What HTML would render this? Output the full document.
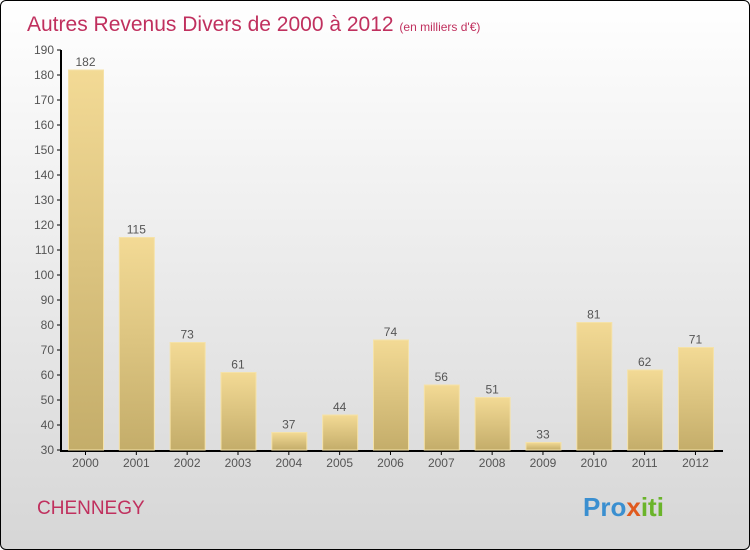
<!DOCTYPE html>
<html><head><meta charset="utf-8"><style>
body{margin:0}
#c{width:748px;height:548px;border:1px solid #000;border-radius:6px;overflow:hidden;background:linear-gradient(#ffffff,#d6d6d6);position:relative;font-family:"Liberation Sans",sans-serif}
</style></head><body>
<div id="c">
<svg width="748" height="548">
<defs><linearGradient id="g" x1="0" y1="0" x2="0" y2="1"><stop offset="0" stop-color="#f3da95"/><stop offset="1" stop-color="#c4ad6a"/></linearGradient></defs>
<text x="26" y="30" font-size="21" fill="#c0305e">Autres Revenus Divers de 2000 à 2012 <tspan font-size="12">(en milliers d'€)</tspan></text>
<g id="ax"></g><g id="bars"></g>
<text x="36" y="513" font-size="19" fill="#c0305e">CHENNEGY</text>
<text x="582" y="515" font-size="26" font-weight="bold" fill="#3a8fd0">Pro<tspan fill="#e05a1e">x</tspan><tspan fill="#6ab42a">iti</tspan></text>
</svg></div>
<script>
const years=["2000","2001","2002","2003","2004","2005","2006","2007","2008","2009","2010","2011","2012"];
const values=[182,115,73,61,37,44,74,56,51,33,81,62,71];
const yTicks=[30,40,50,60,70,80,90,100,110,120,130,140,150,160,170,180,190];
const NS="http://www.w3.org/2000/svg";
const y=v=>449-(v-30)*2.5, x=i=>84.5+i*50.83;
function mk(t,a,p){const e=document.createElementNS(NS,t);for(const k in a)e.setAttribute(k,a[k]);p.appendChild(e);return e;}
const ax=document.getElementById('ax'),bg=document.getElementById('bars');
let l=mk('line',{x1:60,y1:49,x2:60,y2:450,stroke:'#000','stroke-width':2},ax);


l=mk('line',{x1:59,y1:450,x2:722,y2:450,stroke:'#000','stroke-width':2},ax);


yTicks.forEach(v=>{mk('line',{x1:56,y1:y(v),x2:60,y2:y(v),stroke:'#000'},ax);
const t=mk('text',{x:53,y:y(v)+4,'font-size':12,fill:'#555','text-anchor':'end'},ax);t.textContent=v;

});
years.forEach((yr,i)=>{const v=values[i];
const r=mk('rect',{x:x(i)-17,y:y(v),width:35,height:449-y(v),fill:'url(#g)',stroke:'#f5e2a8','stroke-width':1},bg);


const t=mk('text',{x:x(i),y:y(v)-4,'font-size':12,fill:'#555','text-anchor':'middle'},bg);t.textContent=v;


mk('line',{x1:x(i),y1:450,x2:x(i),y2:454,stroke:'#000'},ax);
const xt=mk('text',{x:x(i),y:466,'font-size':12,fill:'#555','text-anchor':'middle'},ax);xt.textContent=yr;

});
</script>
</body></html>
